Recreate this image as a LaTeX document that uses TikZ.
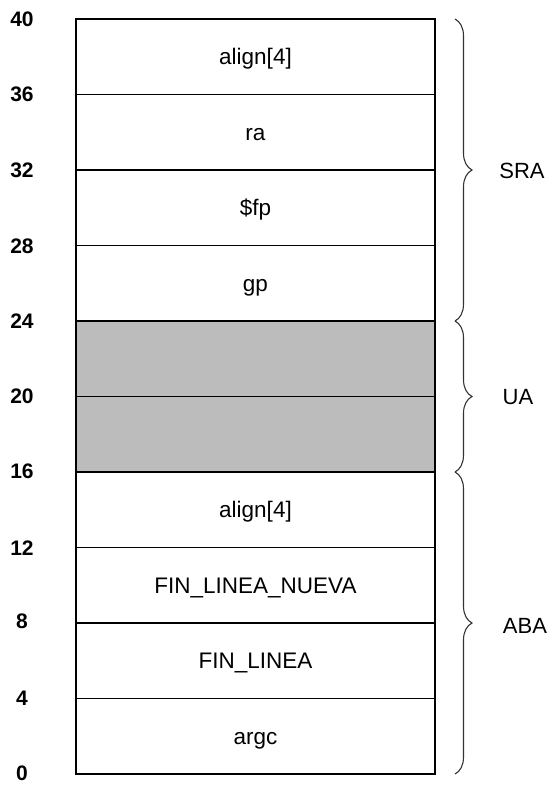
\documentclass[tikz,border=0pt]{standalone}
\usepackage{fontspec}
\setmainfont{Liberation Sans}
\usetikzlibrary{calc,decorations.pathreplacing}

\tikzset{
    cell/.style={draw, line width=1.6pt, minimum width=359pt, minimum height=75.5pt,
        inner sep=0pt, outer sep=0pt, text height=16pt, text depth=0pt,
        font=\fontsize{22.5}{26}\selectfont},
    used/.style={cell, fill=lightgray!95!gray},
    offset/.style={font=\fontsize{21}{25}\selectfont\bfseries},
    area/.style={decorate, decoration={brace, amplitude=17pt, aspect=0.5},
        line width=1.1pt, draw=black!80},
    areaname/.style={font=\fontsize{22}{26}\selectfont},
}

\begin{document}
\begin{tikzpicture}[x=1pt, y=-1pt]
        \useasboundingbox (0,0) rectangle (559,793);

        %%% Stack frame
        % Argument build area
        \node[cell] (argc) at (255.5,736.25) {argc};
        \node[cell] (fin) at (255.5,660.75) {FIN\_LINEA};
        \node[cell] (finNueva) at (255.5,585.25) {FIN\_LINEA\_NUEVA};
        \node[cell] (alignLow) at (255.5,509.75) {align[4]};

        % Local area (empty)
        \node[used] (local1) at (255.5,434.25) {};
        \node[used] (local2) at (255.5,358.75) {};

        % Saved register area
        \node[cell] (gp) at (255.5,283.25) {gp};
        \node[cell] (fp) at (255.5,207.75) {\$fp};
        \node[cell] (ra) at (255.5,132.25) {ra};
        \node[cell] (alignHigh) at (255.5,56.75) {align[4]};

        % Offsets
        \node[offset] (off0) at (22,773) {0};
        \node[offset] (off4) at (22,698) {4};
        \node[offset] (off8) at (22,621) {8};
        \node[offset] (off12) at (22,548) {12};
        \node[offset] (off16) at (22,471) {16};
        \node[offset] (off20) at (22,396) {20};
        \node[offset] (off24) at (22,321) {24};
        \node[offset] (off28) at (22,246) {28};
        \node[offset] (off32) at (22,170) {32};
        \node[offset] (off36) at (22,94) {36};
        \node[offset] (off40) at (22,19) {40};

        % Brace ends
        \coordinate (sraTop) at ($(alignHigh.north east)+(20,0)$);
        \coordinate (sraBot) at ($(gp.south east)+(20,0)$);
        \coordinate (uaBot) at ($(local1.south east)+(20,0)$);
        \coordinate (abaBot) at ($(argc.south east)+(20,0)$);

        % Braces
        \draw[area] (sraTop) -- (sraBot);
        \draw[area] (sraBot) -- (uaBot);
        \draw[area] (uaBot) -- (abaBot);

        % Area names
        \node[areaname] (sra) at (522,171) {SRA};
        \node[areaname] (ua) at (518,397) {UA};
        \node[areaname] (aba) at (525,626) {ABA};
    \end{tikzpicture}
\end{document}
